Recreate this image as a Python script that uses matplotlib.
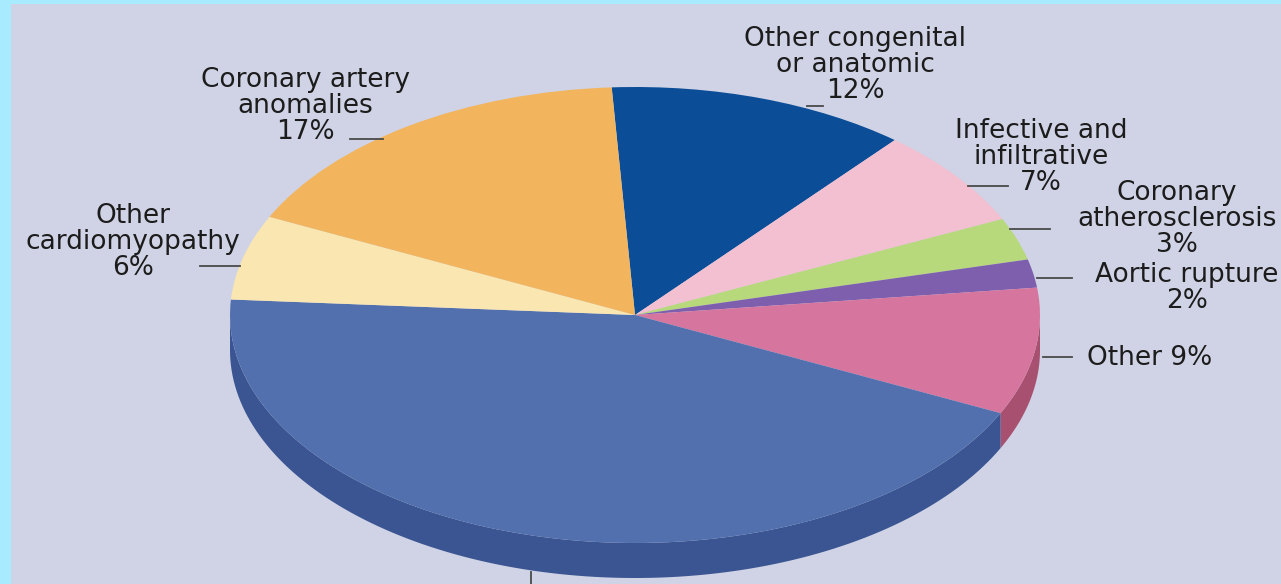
#!/usr/bin/env python3

import numpy as np
import matplotlib as mpl
import matplotlib.pyplot as plt
from matplotlib.patches import Polygon, Rectangle

mpl.rcParams['font.family'] = ['DejaVu Sans']

# slices, clockwise from the top
labels = ['Other congenital\nor anatomic\n12%', 'Infective and\ninfiltrative\n7%',
          'Coronary\natherosclerosis\n3%', 'Aortic rupture\n2%', 'Other 9%',
          '', 'Other\ncardiomyopathy\n6%', 'Coronary artery\nanomalies\n17%']
values = [12, 7, 3, 2, 9, 44, 6, 17]
colors = ['#0b4d97', '#f2c0d0', '#b7d97b', '#7e5fae', '#d6769e',
          '#5270ae', '#f9e6b0', '#f2b55d']
side_colors = ['#083a73', '#c9a0ae', '#95b463', '#5f4788', '#a8506f',
               '#3a5592', '#cdbd8f', '#c99546']

W, H = 1281, 584
CX, CY, RX, RY = 635, 315, 405, 228
DEPTH = 35 / RY


def px(x, y):
    """pixel position -> data coords of the pie axes"""
    return (x - CX) / RX, (CY - y) / RY


fig = plt.figure(figsize=(W / 100, H / 100), dpi=100)
fig.patch.set_facecolor('#a8eafe')
ax = fig.add_axes([0, 0, 1, 1])
ax.set_axis_off()

# background panel inside the cyan border
x0, y0 = px(11, 584)
x1, y1 = px(W, 4)
ax.add_patch(Rectangle((x0, y0), x1 - x0, y1 - y0, facecolor='#cfd3e5',
                       edgecolor='none', zorder=0))

wedges, _ = ax.pie(values, colors=colors, startangle=93.3, counterclock=False,
                   wedgeprops=dict(linewidth=0, zorder=3))
ax.set_aspect('auto')
ax.set_xlim(px(0, 0)[0], px(W, 0)[0])
ax.set_ylim(px(0, H)[1], px(0, 0)[1])

# extruded side for the front half of the pie
for w, sc in zip(wedges, side_colors):
    a1, a2 = w.theta1, w.theta2
    for off in (-360, 0, 360):
        lo = max(a1 + off, 180)
        hi = min(a2 + off, 360)
        if hi <= lo:
            continue
        t = np.radians(np.linspace(lo, hi, 120))
        top = np.column_stack([np.cos(t), np.sin(t)])
        bot = np.column_stack([np.cos(t[::-1]), np.sin(t[::-1]) - DEPTH])
        ax.add_patch(Polygon(np.vstack([top, bot]), closed=True,
                             facecolor=sc, edgecolor='none', zorder=2))

# labels (pixel positions)
txt = dict(fontsize=19, color='#1c1c1c', linespacing=0.98, zorder=5)
label_pos = [(855, 65, 'center'), (1041, 157, 'center'), (1177, 219, 'center'),
             (1187, 288, 'center'), (1087, 358, 'left'), None,
             (133, 242, 'center'), (305, 106, 'center')]
for lab, pos in zip(labels, label_pos):
    if pos is None:
        continue
    x, y = px(pos[0], pos[1])
    ax.text(x, y, lab, ha=pos[2], va='center', **txt)

# leader lines
leaders = [((807, 106), (823, 106)), ((968, 186), (1008, 186)),
           ((1010, 229), (1050, 229)), ((1037, 278), (1072, 278)),
           ((1043, 357), (1072, 357)), ((531, 572), (531, 584)),
           ((200, 266), (240, 266)), ((350, 139), (383, 139))]
for p, q in leaders:
    a, b = px(*p), px(*q)
    ax.plot([a[0], b[0]], [a[1], b[1]], color='#4a4a4a', lw=1.3, zorder=4)

fig.savefig('out.png', dpi=100)
